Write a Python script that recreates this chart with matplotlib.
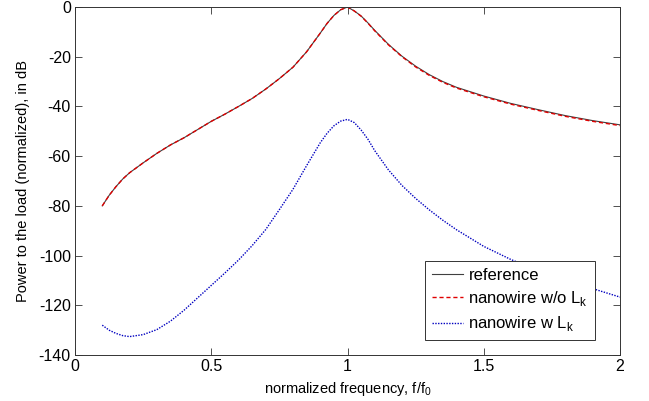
import numpy as np
import matplotlib
matplotlib.use('Agg')
import matplotlib.pyplot as plt

# normalized frequency points
freq = [0.1, 0.125, 0.15, 0.175, 0.2, 0.25, 0.3, 0.35, 0.4, 0.45, 0.5, 0.55, 0.6,
        0.65, 0.7, 0.75, 0.8, 0.85, 0.9, 0.925, 0.95, 0.975, 1.0, 1.025, 1.05,
        1.075, 1.1, 1.15, 1.2, 1.25, 1.3, 1.35, 1.4, 1.5, 1.6, 1.7, 1.8, 1.9, 2.0]

ref_db = [-80, -75.8, -72.3, -69.2, -66.7, -62.7, -58.9, -55.5, -52.6, -49.3, -46,
          -43.1, -40, -36.8, -33, -28.8, -24.2, -18, -10.5, -6.6, -3.4, -1.1, 0,
          -1.6, -3.6, -6.4, -9.4, -15, -19.8, -23.8, -27.2, -30, -32.3, -35.8, -38.8,
          -41.3, -43.7, -45.7, -47.4]

nw_db = [-80, -75.8, -72.3, -69.2, -66.7, -62.7, -58.9, -55.5, -52.6, -49.3, -46,
         -43.1, -40, -36.8, -33, -28.8, -24.2, -18, -10.5, -6.6, -3.4, -1.1, 0,
         -1.6, -3.7, -6.5, -9.6, -15.2, -20, -24.1, -27.5, -30.3, -32.6, -36.1, -39.1,
         -41.6, -44, -46, -47.7]

nwlk_db = [-128, -130, -131.3, -132.2, -132.6, -131.8, -129.8, -126.4, -122, -117,
           -112, -107, -101.8, -96, -89.5, -81.5, -73.3, -63.8, -54.6, -50.8,
           -47.8, -45.9, -45.2, -46.5, -49.5, -53.2, -57.8, -65.5, -71.8, -77, -81.6, -85.8,
           -89.6, -96.3, -101.6, -106, -110, -113.3, -116.7]

plt.rcParams['font.family'] = ['Liberation Sans', 'DejaVu Sans']
plt.rcParams['mathtext.fontset'] = 'custom'
plt.rcParams['mathtext.rm'] = 'Liberation Sans'
plt.rcParams['axes.unicode_minus'] = False

fig = plt.figure(figsize=(6.49, 4.01), dpi=100)
ax = fig.add_axes([0.1156, 0.1147, 0.8397, 0.8678])

ax.plot(freq, ref_db, color='#404040', lw=0.8, label='reference')
ax.plot(freq, nw_db, color='#e00000', lw=1.0, ls=(0, (3, 2)), label=r'nanowire w/o L$_{\mathregular{k}}$')
ax.plot(freq, nwlk_db, color='#0000c0', lw=1.0, ls=(0, (1, 1)), label=r'nanowire w L$_{\mathregular{k}}$')

ax.set_xlim(0, 2)
ax.set_ylim(-140, 0)
ax.set_xticks([0, 0.5, 1, 1.5, 2])
ax.set_xticklabels(['0', '0.5', '1', '1.5', '2'])
ax.set_yticks(np.arange(-140, 1, 20))
ax.tick_params(direction='in', top=True, right=True, length=5, width=0.6,
               labelsize=11.5, color='#333333', pad=3)
for s in ax.spines.values():
    s.set_linewidth(0.7)
    s.set_color('#333333')

ax.set_xlabel(r'normalized frequency, f/f$_{\mathregular{0}}$', fontsize=10.5, labelpad=4)
ax.set_ylabel('Power to the load (normalized), in dB', fontsize=10.5, labelpad=6)

leg = ax.legend(loc='lower right', bbox_to_anchor=(0.954, 0.043), borderaxespad=0,
                fontsize=12, handlelength=1.9, fancybox=False, framealpha=1,
                edgecolor='#333333', borderpad=0.4, labelspacing=0.38, handletextpad=0.3)
leg.get_frame().set_linewidth(0.7)

fig.savefig('out.png', dpi=100)
